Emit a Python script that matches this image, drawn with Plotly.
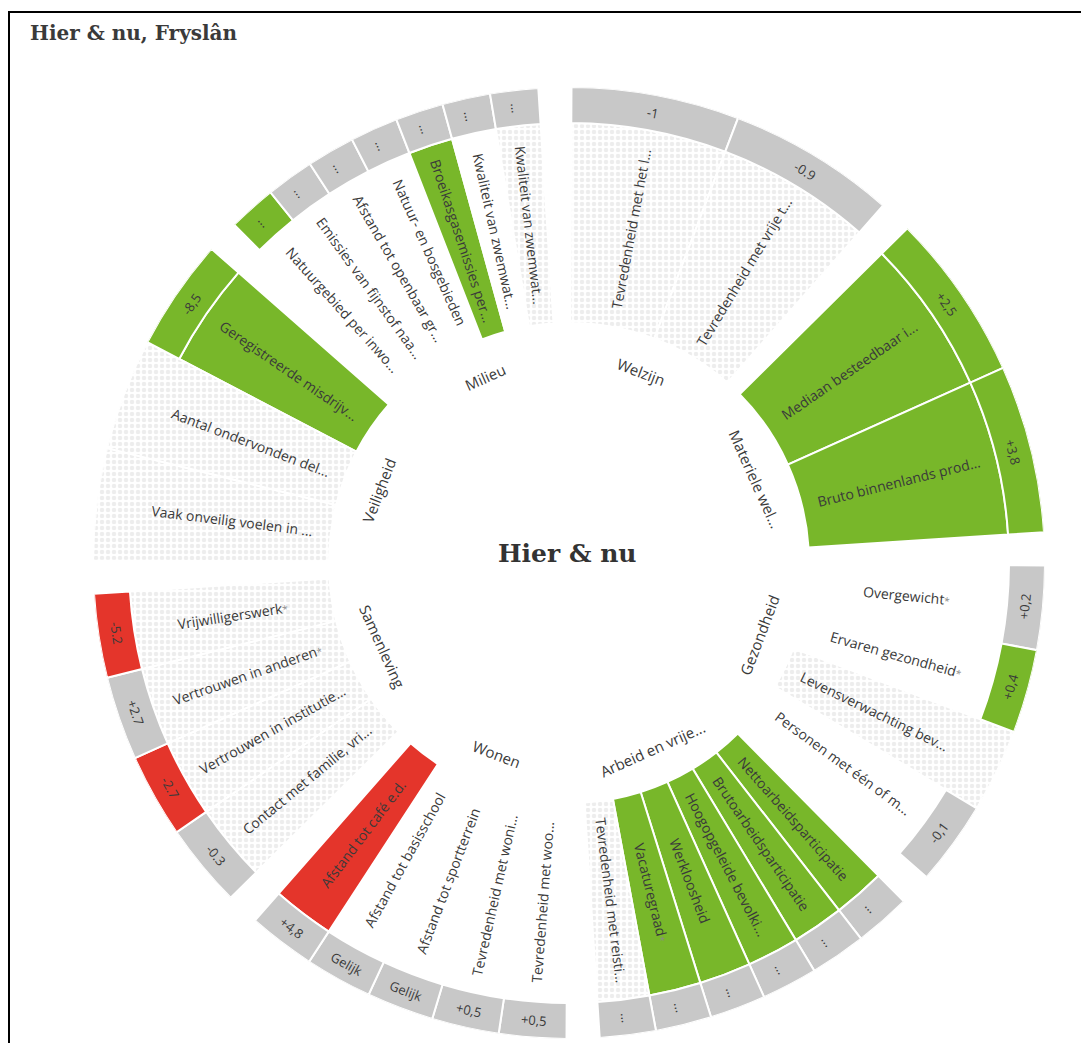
import math
import plotly.graph_objects as go

# ---------------- data ----------------
title_text = "Hier &amp; nu, Fryslân"
center_text = "Hier &amp; nu"

categories = ["Welzijn", "Materiele wel...", "Gezondheid", "Arbeid en vrije...",
              "Wonen", "Samenleving", "Veiligheid", "Milieu"]

indicators = [
    ["Tevredenheid met het l...", "Tevredenheid met vrije t..."],
    ["Mediaan besteedbaar i...", "Bruto binnenlands prod..."],
    ["Overgewicht*", "Ervaren gezondheid*", "Levensverwachting bev...", "Personen met één of m..."],
    ["Nettoarbeidsparticipatie", "Brutoarbeidsparticipatie", "Hoogopgeleide bevolki...",
     "Werkloosheid", "Vacaturegraad*", "Tevredenheid met reisti..."],
    ["Tevredenheid met woo...", "Tevredenheid met woni...", "Afstand tot sportterrein",
     "Afstand tot basisschool", "Afstand tot café e.d."],
    ["Contact met familie, vri...", "Vertrouwen in institutie...", "Vertrouwen in anderen*",
     "Vrijwilligerswerk*"],
    ["Vaak onveilig voelen in ...", "Aantal ondervonden del...", "Geregistreerde misdrijv..."],
    ["Natuurgebied per inwo...", "Emissies van fijnstof naa...", "Afstand tot openbaar gr...",
     "Natuur- en bosgebieden", "Broeikasgasemissies per...", "Kwaliteit van zwemwat...",
     "Kwaliteit van zwemwat..."],
]

# wedge status: pos / neg / none / nodata
wedge_status = [
    ["nodata", "nodata"],
    ["pos", "pos"],
    ["none", "none", "nodata", "none"],
    ["pos", "pos", "pos", "pos", "pos", "nodata"],
    ["none", "none", "none", "none", "neg"],
    ["nodata", "nodata", "nodata", "nodata"],
    ["nodata", "nodata", "pos"],
    ["none", "none", "none", "none", "pos", "none", "nodata"],
]

# outer band status: pos / neg / neutral / None (no band)
band_status = [
    ["neutral", "neutral"],
    ["pos", "pos"],
    ["neutral", "pos", None, "neutral"],
    ["neutral"] * 6,
    ["neutral"] * 5,
    ["neutral", "neg", "neutral", "neg"],
    [None, None, "pos"],
    ["pos", "neutral", "neutral", "neutral", "neutral", "neutral", "neutral"],
]

band_labels = [
    ["-1", "-0.9"],
    ["+2,5", "+3,8"],
    ["+0,2", "+0,4", "", "-0,1"],
    ["..."] * 6,
    ["+0,5", "+0,5", "Gelijk", "Gelijk", "+4,8"],
    ["-0.3", "-2.7", "+2.7", "-5.2"],
    ["", "", "-8,5"],
    ["..."] * 7,
]

# ---------------- geometry / style ----------------
W, H = 1089, 1043
OFF = 8                      # page offset of the plot div
CX, CY, R = 569 - OFF, 563 - OFF, 476
R_IN = 240
R_BAND = 440
R_CAT = 204
R_LABEL = 340
R_VAL = 458
SECTOR = 360 / len(categories)
SPAN = 41.0
OFFSET = 0.3

GREEN = "#78b72a"
RED = "#e4352b"
GREY = "#c8c8c8"
TXT = "#3a3a3a"

fill_map = {"pos": GREEN, "neg": RED, "none": "white"}
band_map = {"pos": GREEN, "neg": RED, "neutral": GREY}


def to_paper(r, th):
    t = math.radians(th)
    x = CX + r * math.sin(t)
    y = CY - r * math.cos(t)
    return x / W, 1 - y / H


def tang_angle(th):
    if th < 90:
        return th
    if th < 270:
        return th - 180
    return th - 360


def radial_angle(th):
    return th - 90 if th < 180 else th - 270


def fmt_label(s):
    if s.endswith("*"):
        return s[:-1] + "<span style='font-size:10px;color:#8a8a8a'>*</span>"
    return s


solid = dict(theta=[], width=[], base=[], r=[], col=[])
hatch = dict(theta=[], width=[], base=[], r=[])
band = dict(theta=[], width=[], base=[], r=[], col=[])
annotations = []

for k, cat in enumerate(categories):
    start = k * SECTOR + OFFSET
    n = len(indicators[k])
    w = SPAN / n
    cmid = start + SPAN / 2
    xp, yp = to_paper(R_CAT, cmid)
    annotations.append(dict(x=xp, y=yp, xref="paper", yref="paper", text=cat,
                            showarrow=False, textangle=tang_angle(cmid),
                            font=dict(family="Open Sans", size=15, color=TXT),
                            xanchor="center", yanchor="middle"))
    for i in range(n):
        th = start + (i + 0.5) * w
        ws = wedge_status[k][i]
        bs = band_status[k][i]
        full = bs is None
        length = (R - R_IN) if full else (R_BAND - R_IN)
        tgt = hatch if ws == "nodata" else solid
        tgt["theta"].append(th)
        tgt["width"].append(w)
        tgt["base"].append(R_IN)
        tgt["r"].append(length)
        if ws != "nodata":
            tgt["col"].append(fill_map[ws])
        if not full:
            band["theta"].append(th)
            band["width"].append(w)
            band["base"].append(R_BAND)
            band["r"].append(R - R_BAND)
            band["col"].append(band_map[bs])
            lab = band_labels[k][i]
            xp, yp = to_paper(R_VAL, th)
            ang = radial_angle(th) if lab == "..." else tang_angle(th)
            annotations.append(dict(x=xp, y=yp, xref="paper", yref="paper", text=lab,
                                    showarrow=False, textangle=ang,
                                    font=dict(family="Open Sans", size=13, color=TXT),
                                    xanchor="center", yanchor="middle"))
        xp, yp = to_paper(R_LABEL, th)
        annotations.append(dict(x=xp, y=yp, xref="paper", yref="paper",
                                text=fmt_label(indicators[k][i]), showarrow=False,
                                textangle=radial_angle(th),
                                font=dict(family="Open Sans", size=14, color=TXT),
                                xanchor="center", yanchor="middle"))

fig = go.Figure()
fig.add_trace(go.Barpolar(
    theta=solid["theta"], width=solid["width"], base=solid["base"], r=solid["r"],
    marker=dict(color=solid["col"], line=dict(color="white", width=2)),
    hoverinfo="skip", showlegend=False))
fig.add_trace(go.Barpolar(
    theta=hatch["theta"], width=hatch["width"], base=hatch["base"], r=hatch["r"],
    marker=dict(color="white", line=dict(color="white", width=2),
                pattern=dict(shape=".", fgcolor="#dcdcdc", bgcolor="white",
                             size=6, solidity=0.45)),
    hoverinfo="skip", showlegend=False))
fig.add_trace(go.Barpolar(
    theta=band["theta"], width=band["width"], base=band["base"], r=band["r"],
    marker=dict(color=band["col"], line=dict(color="white", width=2)),
    hoverinfo="skip", showlegend=False))

annotations.append(dict(x=(28 - OFF) / W, y=1 - (33 - OFF) / H, xref="paper", yref="paper",
                        text="<b>" + title_text + "</b>", showarrow=False,
                        font=dict(family="DejaVu Serif", size=20, color="#3a3a3a"),
                        xanchor="left", yanchor="middle"))
annotations.append(dict(x=(567 - OFF) / W, y=1 - (553 - OFF) / H, xref="paper", yref="paper",
                        text="<b>" + center_text + "</b>", showarrow=False,
                        font=dict(family="DejaVu Serif", size=25, color="#333333"),
                        xanchor="center", yanchor="middle"))

fig.update_layout(
    width=W, height=H, margin=dict(l=0, r=0, t=0, b=0),
    paper_bgcolor="white", plot_bgcolor="white",
    polar=dict(
        domain=dict(x=[(CX - R) / W, (CX + R) / W], y=[1 - (CY + R) / H, 1 - (CY - R) / H]),
        bgcolor="white", hole=0, barmode="overlay",
        radialaxis=dict(range=[0, R], visible=False),
        angularaxis=dict(direction="clockwise", rotation=90, visible=False,
                         showgrid=False, showline=False, showticklabels=False),
    ),
    annotations=annotations,
    shapes=[dict(type="rect", xref="paper", yref="paper", x0=1 / W, y0=1 - (12 - OFF) / H,
                 x1=1.05, y1=-0.05, line=dict(color="black", width=2), layer="above")],
)

fig.write_html("out.html")
